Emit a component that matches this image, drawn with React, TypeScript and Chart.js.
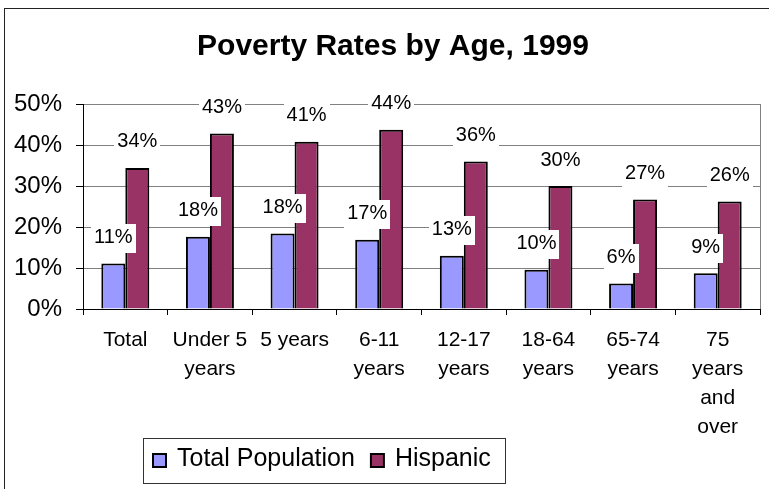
import React, { useEffect, useRef } from "react";
import { Chart, registerables } from "chart.js";

Chart.register(...registerables);

const TITLE = "Poverty Rates by Age, 1999";
const categories: (string | string[])[] = [
  "Total",
  ["Under 5", "years"],
  "5 years",
  ["6-11", "years"],
  ["12-17", "years"],
  ["18-64", "years"],
  ["65-74", "years"],
  ["75", "years", "and", "over"],
];
const seriesNames = ["Total Population", "Hispanic"];
const totalPopulation = [11.1, 17.6, 18.4, 16.9, 13.0, 9.6, 6.2, 8.7];
const hispanic = [34.4, 42.8, 40.8, 43.7, 36.0, 30.0, 26.7, 26.2];
const seriesColors = ["#9999FF", "#993366"];
const yMin = 0;
const yMax = 50;
const yStep = 10;

const FONT = "'Liberation Sans', Arial, Helvetica, sans-serif";

const decorPlugin = {
  id: "decor",
  beforeDraw(chart: any) {
    const ctx = chart.ctx;
    ctx.save();
    ctx.fillStyle = "#ffffff";
    ctx.fillRect(0, 0, chart.width, chart.height);
    ctx.restore();
  },
  afterDatasetsDraw(chart: any) {
    const ctx = chart.ctx;
    ctx.save();
    ctx.font = `20px ${FONT}`;
    ctx.textAlign = "center";
    ctx.textBaseline = "middle";
    chart.data.datasets.forEach((ds: any, di: number) => {
      const meta = chart.getDatasetMeta(di);
      meta.data.forEach((el: any, i: number) => {
        const v = ds.data[i];
        const txt = Math.round(v) + "%";
        const w = ctx.measureText(txt).width;
        const cy = el.y - 25;
        ctx.fillStyle = "#ffffff";
        ctx.fillRect(Math.round(el.x - w / 2 - 3), Math.round(cy - 14.5), Math.round(w + 6), 29);
        ctx.fillStyle = "#000000";
        ctx.fillText(txt, el.x, el.y - 26);
      });
    });
    ctx.restore();
  },
  afterDraw(chart: any) {
    const ctx = chart.ctx;
    const area = chart.chartArea;
    ctx.save();
    // plot area right border
    ctx.strokeStyle = "#808080";
    ctx.lineWidth = 1;
    ctx.beginPath();
    ctx.moveTo(Math.round(area.right) + 0.5, area.top);
    ctx.lineTo(Math.round(area.right) + 0.5, area.bottom);
    ctx.stroke();
    // outer chart border
    ctx.strokeStyle = "#222222";
    ctx.strokeRect(4.5, 8.5, 900, 700);
    // title
    ctx.fillStyle = "#000000";
    ctx.font = `bold 30px ${FONT}`;
    ctx.textAlign = "center";
    ctx.textBaseline = "alphabetic";
    ctx.fillText(TITLE, 393, 55);
    // legend
    ctx.strokeStyle = "#333333";
    ctx.lineWidth = 1;
    ctx.strokeRect(143.5, 438.5, 362, 45);
    ctx.font = `25px ${FONT}`;
    ctx.textAlign = "left";
    let x = 152;
    chart.data.datasets.forEach((ds: any) => {
      ctx.fillStyle = "#000000";
      ctx.fillRect(x, 453, 15, 15);
      ctx.fillStyle = ds.backgroundColor;
      ctx.fillRect(x + 2, 455, 11, 11);
      ctx.fillStyle = "#000000";
      ctx.fillText(ds.label, x + 25, 466);
      x = x + 25 + ctx.measureText(ds.label).width + 15;
    });
    ctx.restore();
  },
};

export default function App() {
  const canvasRef = useRef<HTMLCanvasElement | null>(null);

  useEffect(() => {
    const canvas = canvasRef.current;
    if (!canvas) return;
    const chart = new Chart(canvas, {
      type: "bar",
      data: {
        labels: categories as any,
        datasets: [
          {
            label: seriesNames[0],
            data: totalPopulation,
            backgroundColor: seriesColors[0],
            borderColor: "#000000",
            borderWidth: 2,
            categoryPercentage: 0.567,
            barPercentage: 1.0,
          },
          {
            label: seriesNames[1],
            data: hispanic,
            backgroundColor: seriesColors[1],
            borderColor: "#000000",
            borderWidth: 2,
            categoryPercentage: 0.567,
            barPercentage: 1.0,
          },
        ],
      },
      options: {
        responsive: false,
        animation: false,
        devicePixelRatio: 1,
        layout: { padding: { top: 104, right: 9, left: 0, bottom: 0 } },
        plugins: {
          legend: { display: false },
          title: { display: false },
          tooltip: { enabled: false },
        },
        scales: {
          x: {
            afterFit: (s: any) => {
              s.height = 180;
            },
            grid: {
              offset: true,
              drawOnChartArea: false,
              drawTicks: true,
              tickLength: 6,
              tickColor: "#000000",
            },
            border: { display: true, color: "#000000", width: 1 },
            ticks: {
              color: "#000000",
              font: { family: FONT, size: 21, lineHeight: 1.38 },
              padding: 11,
              maxRotation: 0,
              autoSkip: false,
            },
          },
          y: {
            min: yMin,
            max: yMax,
            afterFit: (s: any) => {
              s.width = 83;
            },
            grid: {
              color: (c: any) => (c.tick && c.tick.value === 0 ? "#000000" : "#808080"),
              tickColor: "#000000",
              tickLength: 7,
              drawTicks: true,
            },
            border: { display: true, color: "#000000", width: 1 },
            ticks: {
              stepSize: yStep,
              color: "#000000",
              font: { family: FONT, size: 24 },
              padding: 14,
              callback: (v: any) => v + "%",
            },
          },
        },
      },
      plugins: [decorPlugin],
    } as any);
    return () => chart.destroy();
  }, []);

  return (
    <div style={{ position: "absolute", left: 0, top: 0, width: 769, height: 489, background: "#fff" }}>
      <canvas ref={canvasRef} width={769} height={489} style={{ display: "block" }} />
    </div>
  );
}
